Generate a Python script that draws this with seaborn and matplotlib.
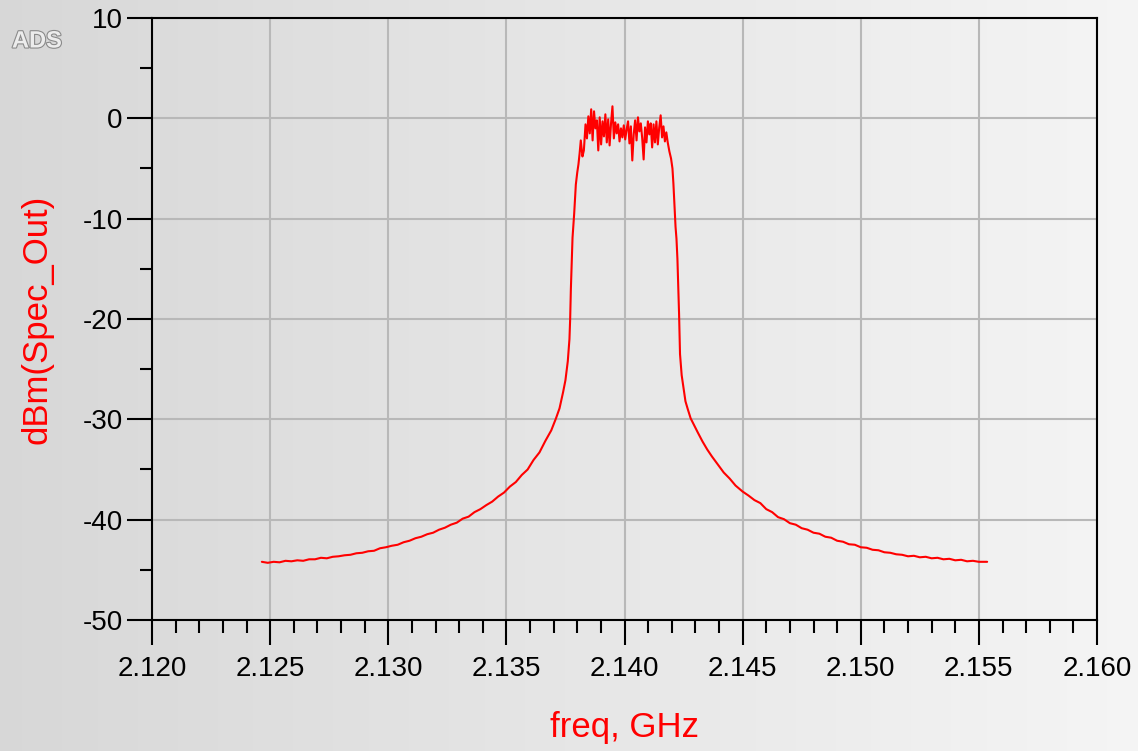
import numpy as np
import pandas as pd
import matplotlib
matplotlib.use("Agg")
import matplotlib.pyplot as plt
import matplotlib.patheffects as pe
from matplotlib.ticker import MultipleLocator, FormatStrFormatter
import seaborn as sns

# ---------------- data ----------------
freq_left = [2.12465, 2.12490, 2.12515, 2.12540, 2.12565, 2.12590, 2.12615, 2.12640,
             2.12665, 2.12690, 2.12715, 2.12740, 2.12765, 2.12790, 2.12815, 2.12840,
             2.12865, 2.12890, 2.12915, 2.12940, 2.12965, 2.12990, 2.13015, 2.13040,
             2.13065, 2.13090, 2.13115, 2.13140, 2.13165, 2.13190, 2.13215, 2.13240,
             2.13265, 2.13290, 2.13315, 2.13340, 2.13365, 2.13390, 2.13415, 2.13440,
             2.13465, 2.13490, 2.13515, 2.13540, 2.13565, 2.13590, 2.13615, 2.13640,
             2.13665, 2.13690, 2.13710, 2.13725, 2.13740, 2.13750, 2.13760, 2.13767,
             2.13770, 2.13773, 2.13777, 2.13780, 2.13787, 2.13794, 2.13800, 2.13805,
             2.13810, 2.13815, 2.13822, 2.13828]
dbm_left = [-44.2, -44.3, -44.2, -44.25, -44.1, -44.15, -44.05, -44.1,
            -43.95, -43.95, -43.8, -43.85, -43.7, -43.65, -43.55, -43.5,
            -43.35, -43.3, -43.15, -43.1, -42.85, -42.75, -42.6, -42.5,
            -42.25, -42.1, -41.85, -41.7, -41.45, -41.3, -41.0, -40.8,
            -40.5, -40.3, -39.9, -39.7, -39.25, -38.95, -38.55, -38.2,
            -37.7, -37.3, -36.7, -36.25, -35.55, -35.0, -34.05, -33.3,
            -32.15, -31.1, -29.9, -28.9, -27.3, -26.1, -24.2, -22.0,
            -20.0, -17.0, -14.0, -11.9, -9.5, -6.6, -5.4, -4.6,
            -3.5, -2.2, -3.8, -3.2]

freq_band = [2.13835, 2.13841, 2.13847, 2.13853, 2.13859, 2.13865, 2.13871, 2.13877,
             2.13883, 2.13889, 2.13895, 2.13901, 2.13907, 2.13913, 2.13919, 2.13925,
             2.13931, 2.13937, 2.13943, 2.13949, 2.13955, 2.13961, 2.13967, 2.13973,
             2.13979, 2.13985, 2.13991, 2.13997, 2.14003, 2.14009, 2.14015, 2.14021,
             2.14027, 2.14033, 2.14039, 2.14045, 2.14051, 2.14057, 2.14063, 2.14069,
             2.14075, 2.14081, 2.14087, 2.14093, 2.14099, 2.14105, 2.14111, 2.14117,
             2.14123, 2.14129, 2.14135, 2.14141, 2.14147, 2.14153, 2.14159, 2.14165,
             2.14171, 2.14177]
dbm_band = [-0.6, -2.0, 0.2, -1.5, 0.9, -2.2, 0.7, -1.0,
            -0.2, -3.2, 0.1, -2.6, -0.3, -1.8, 0.4, -2.4,
            -0.1, -2.7, -0.5, 1.2, -2.0, -0.4, -1.5, -0.6,
            -2.3, -1.0, -1.9, -0.7, -2.1, -1.1, -0.3, -2.5,
            -0.8, -4.2, -1.6, -0.2, -2.2, 0.1, -1.3, -0.5,
            -2.0, -4.1, -0.9, -2.4, -0.3, -1.6, -0.5, -2.9,
            -0.6, -2.4, -0.3, -2.6, -0.9, 0.3, -1.9, -0.8,
            -2.3, -1.4]

freq_right = [2.14183, 2.14190, 2.14197, 2.14203, 2.14207, 2.14212, 2.14216, 2.14220,
              2.14224, 2.14228, 2.14231, 2.14235, 2.14242, 2.14250, 2.14258, 2.14268,
              2.14280, 2.14295, 2.14310, 2.14330, 2.14350, 2.14370, 2.14395, 2.14420,
              2.14445, 2.14470, 2.14500, 2.14525, 2.14550, 2.14575, 2.14600, 2.14625,
              2.14650, 2.14675, 2.14700, 2.14725, 2.14750, 2.14775, 2.14800, 2.14825,
              2.14850, 2.14875, 2.14900, 2.14925, 2.14950, 2.14975, 2.15000, 2.15025,
              2.15050, 2.15075, 2.15100, 2.15125, 2.15150, 2.15175, 2.15200, 2.15225,
              2.15250, 2.15275, 2.15300, 2.15325, 2.15350, 2.15375, 2.15400, 2.15425,
              2.15450, 2.15475, 2.15500, 2.15535]
dbm_right = [-2.4, -3.3, -4.0, -5.0, -6.5, -9.0, -10.8, -12.0,
             -14.0, -17.0, -19.5, -23.5, -25.6, -26.9, -28.2, -29.0,
             -29.9, -30.6, -31.3, -32.2, -33.0, -33.7, -34.5, -35.3,
             -35.9, -36.6, -37.2, -37.6, -38.05, -38.35, -38.95, -39.25,
             -39.75, -39.95, -40.35, -40.5, -40.85, -41.0, -41.3, -41.4,
             -41.7, -41.8, -42.1, -42.2, -42.45, -42.5, -42.75, -42.8,
             -43.0, -43.05, -43.25, -43.3, -43.45, -43.5, -43.65, -43.6,
             -43.75, -43.7, -43.85, -43.8, -43.95, -43.9, -44.05, -44.0,
             -44.15, -44.1, -44.2, -44.2]

x_ticks = [2.120, 2.125, 2.130, 2.135, 2.140, 2.145, 2.150, 2.155, 2.160]
y_ticks = [-50, -40, -30, -20, -10, 0, 10]

df = pd.DataFrame({
    "freq": freq_left + freq_band + freq_right,
    "dbm": dbm_left + dbm_band + dbm_right,
})

# ---------------- styling ----------------
sns.set_style("ticks")
plt.rcParams["font.family"] = ["Liberation Sans", "DejaVu Sans"]
plt.rcParams["axes.unicode_minus"] = False

W, H = 1138, 751
fig = plt.figure(figsize=(W / 100, H / 100), dpi=100)

# gradient background
bg = fig.add_axes([0, 0, 1, 1], zorder=-10)
grad = np.linspace(0.845, 0.96, 256)[None, :]
bg.imshow(np.dstack([grad, grad, grad]), aspect="auto", extent=[0, 1, 0, 1])
bg.set_axis_off()

L, R, T, B = 152, 1097, 18, 620
ax = fig.add_axes([L / W, 1 - B / H, (R - L) / W, (B - T) / H])
ax.set_facecolor("none")

sns.lineplot(data=df, x="freq", y="dbm", color="#ff0000", linewidth=1.5,
             ax=ax, sort=False, estimator=None)

ax.set_xlim(2.120, 2.160)
ax.set_ylim(-50, 10)
ax.set_xticks(x_ticks)
ax.set_yticks(y_ticks)
ax.xaxis.set_major_formatter(FormatStrFormatter("%.3f"))
ax.xaxis.set_minor_locator(MultipleLocator(0.001))
ax.yaxis.set_minor_locator(MultipleLocator(5))

ax.grid(True, which="major", color="#b8b8b8", linewidth=1.5)
ax.set_axisbelow(True)
for s in ax.spines.values():
    s.set_visible(True)
    s.set_color("black")
    s.set_linewidth(1.5)

ax.tick_params(axis="both", which="major", direction="out", length=18, width=1.5,
               color="black", labelsize=20, labelcolor="black")
ax.tick_params(axis="both", which="minor", direction="out", length=9, width=1.5,
               color="black")
ax.tick_params(axis="x", which="major", pad=8)
ax.tick_params(axis="y", which="major", pad=3)

ax.set_xlabel("freq, GHz", color="#ff0000", fontsize=25, labelpad=0)
ax.set_ylabel("dBm(Spec_Out)", color="#ff0000", fontsize=25, labelpad=0)
ax.xaxis.label.set_verticalalignment("center")
ax.xaxis.set_label_coords(0.5, -(728 - B) / (B - T))
ax.yaxis.label.set_verticalalignment("center")
ax.yaxis.set_label_coords(-(L - 37) / (R - L), 0.5)

fig.text(12 / W, 1 - 41 / H, "ADS", fontsize=17, color="#ececec",
         ha="left", va="center", fontweight="bold",
         path_effects=[pe.withStroke(linewidth=1.6, foreground="#8a8a8a")])

fig.savefig("out.png", dpi=100)
